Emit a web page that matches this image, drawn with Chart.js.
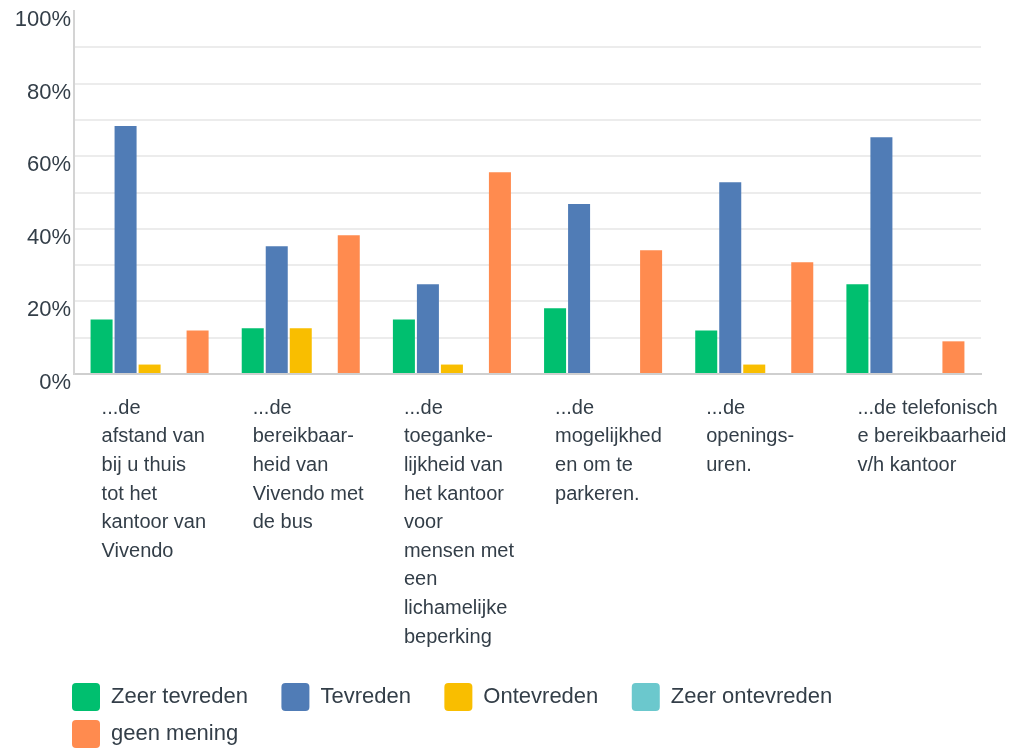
<!DOCTYPE html>
<html>
<head>
<meta charset="utf-8">
<script src="https://cdn.jsdelivr.net/npm/chart.js@4/dist/chart.umd.min.js"></script>
<style>
  body { margin: 0; background: #fff; }
</style>
</head>
<body>
<canvas id="myChart" width="1017" height="750"></canvas>
<script>
// Categories (one array of lines per label)
const categories = [
    ['...de', 'afstand van', 'bij u thuis', 'tot het', 'kantoor van', 'Vivendo'],
    ['...de', 'bereikbaar-', 'heid van', 'Vivendo met', 'de bus'],
    ['...de', 'toeganke-', 'lijkheid van', 'het kantoor', 'voor', 'mensen met', 'een', 'lichamelijke', 'beperking'],
    ['...de', 'mogelijkhed', 'en om te', 'parkeren.'],
    ['...de', 'openings-', 'uren.'],
    ['...de telefonisch', 'e bereikbaarheid', 'v/h kantoor']
];

// Series values (%)
const zeerTevreden   = [15.0, 12.6, 15.0, 18.1, 12.0, 24.7];
const tevreden       = [68.3, 35.2, 24.7, 46.8, 52.8, 65.2];
const ontevreden     = [2.6, 12.6, 2.6, 0, 2.6, 0];
const zeerOntevreden = [0, 0, 0, 0, 0, 0];
const geenMening     = [12.0, 38.2, 55.6, 34.1, 30.8, 9.0];

const seriesNames = ['Zeer tevreden', 'Tevreden', 'Ontevreden', 'Zeer ontevreden', 'geen mening'];
const seriesColors = ['#00bf6f', '#507cb6', '#f9be00', '#6bc8cd', '#ff8b4f'];

// Y axis ticks
const yMax = 100;
const yStep = 10;
const yLabelStep = 20;

const textColor = '#333e48';

// Move the legend in line with the plot (the y axis takes the left margin)
const legendShift = {
    id: 'legendShift',
    afterLayout(c) {
        c.legend.left += 63;
        c.legend.right += 63;
    }
};

let ctx = document.getElementById('myChart').getContext('2d');
let chart = new Chart(ctx, {
    type: 'bar',
    data: {
        labels: categories,
        datasets: [zeerTevreden, tevreden, ontevreden, zeerOntevreden, geenMening].map((values, i) => ({
            label: seriesNames[i],
            data: values,
            backgroundColor: seriesColors[i],
            borderWidth: 0,
            categoryPercentage: 0.794,
            barPercentage: 0.917
        }))
    },
    options: {
        responsive: false,
        animation: false,
        layout: { padding: { left: 0, right: 36, top: 0, bottom: -8 } },
        plugins: {
            tooltip: { enabled: false },
            legend: {
                position: 'bottom',
                align: 'start',
                labels: {
                    boxWidth: 28,
                    boxHeight: 28,
                    padding: 9,
                    useBorderRadius: true,
                    borderRadius: 4,
                    color: textColor,
                    font: { family: 'Liberation Sans, Arial, sans-serif', size: 22 },
                    // extra gap after each legend text
                    generateLabels: c => Chart.defaults.plugins.legend.labels.generateLabels(c)
                        .map(l => Object.assign(l, { text: l.text + '    ' }))
                }
            }
        },
        scales: {
            x: {
                grid: { display: false, drawTicks: false },
                border: { display: true, color: '#cfcfcf', width: 2 },
                ticks: {
                    autoSkip: false,
                    maxRotation: 0,
                    minRotation: 0,
                    align: 'start',
                    labelOffset: -48,
                    padding: 20,
                    color: textColor,
                    font: { family: 'Liberation Sans, Arial, sans-serif', size: 20, lineHeight: 1.43 }
                },
                afterFit: s => { s.height = 300; s.paddingLeft = 0; s.paddingRight = 0; }
            },
            y: {
                min: 0,
                max: yMax,
                grid: {
                    drawTicks: false,
                    lineWidth: 2,
                    color: c => (c.tick && c.tick.value === yMax) ? 'rgba(0,0,0,0)' : '#ececec'
                },
                border: { display: true, color: '#d4d4d4', width: 2 },
                ticks: {
                    stepSize: yStep,
                    padding: 3,
                    labelOffset: 9,
                    color: textColor,
                    font: { family: 'Liberation Sans, Arial, sans-serif', size: 22 },
                    callback: v => (v % yLabelStep === 0 ? v + '%' : '')
                },
                afterFit: s => { s.width = 74; s.paddingTop = 11; s.paddingBottom = 0; }
            }
        }
    },
    plugins: [legendShift]
});
</script>
</body>
</html>
